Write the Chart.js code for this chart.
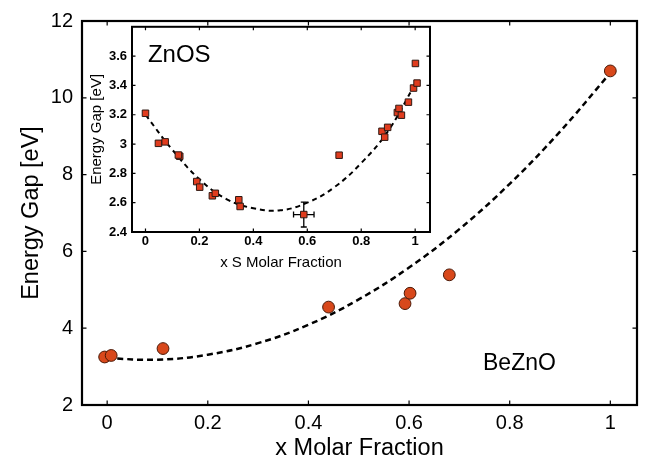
<!DOCTYPE html>
<html>
<head>
<meta charset="utf-8">
<script src="https://cdn.jsdelivr.net/npm/chart.js@4.4.1/dist/chart.umd.min.js"></script>
<style>
  html, body { margin: 0; padding: 0; background: #fff; }
  #wrap { position: relative; width: 645px; height: 466px; }
  #main { position: absolute; left: 0; top: 0; }
  #inset { position: absolute; left: 84px; top: 14px; }
</style>
</head>
<body>
<div id="wrap">
  <canvas id="main" width="645" height="466"></canvas>
  <canvas id="inset" width="356" height="262"></canvas>
</div>
<script>
// BeZnO, main plot
const beznoX = [-0.005, 0.008, 0.111, 0.44, 0.592, 0.602, 0.68, 1.0]
const beznoY = [3.25, 3.29, 3.47, 4.55, 4.64, 4.91, 5.39, 10.70]
const beznoFitX = [0, 0.1, 0.2, 0.3, 0.4, 0.5, 0.6, 0.7, 0.8, 0.9, 1.0]
const beznoFitY = [3.22, 3.18, 3.31, 3.61, 4.09, 4.75, 5.58, 6.58, 7.76, 9.12, 10.65]
const mainXTicks = [0, 0.2, 0.4, 0.6, 0.8, 1]
const mainYTicks = [2, 4, 6, 8, 10, 12]

// ZnOS, inset
const znosX = [0.0, 0.048, 0.073, 0.127, 0.122, 0.19, 0.201, 0.248, 0.259, 0.346, 0.351, 0.587,
  0.718, 0.877, 0.887, 0.898, 0.934, 0.94, 0.949, 0.975, 0.994, 1.007, 1.001]
const znosY = [3.21, 3.005, 3.015, 2.917, 2.925, 2.744, 2.706, 2.647, 2.664, 2.62, 2.574, 2.519,
  2.924, 3.087, 3.047, 3.114, 3.215, 3.243, 3.197, 3.286, 3.382, 3.416, 3.55]
const znosErrAt = [11]
const znosErrX = [0.038]
const znosErrY = [0.085]
const znosFitX = [0, 0.1, 0.2, 0.3, 0.4, 0.5, 0.6, 0.7, 0.8, 0.9, 1.0]
const znosFitY = [3.20, 2.96, 2.76, 2.625, 2.562, 2.548, 2.60, 2.705, 2.87, 3.09, 3.41]
const insetXTicks = [0, 0.2, 0.4, 0.6, 0.8, 1]
const insetYTicks = [2.4, 2.6, 2.8, 3, 3.2, 3.4, 3.6]

const FONT = "'Liberation Sans', Arial, sans-serif"
const zip = (xs, ys) => xs.map((x, i) => ({ x, y: ys[i] }))

// box round the plot area with short inward ticks on all four sides
const framePlugin = {
  id: 'frame',
  afterDraw(chart, args, opts) {
    const { ctx, chartArea: a, scales } = chart
    ctx.save()
    ctx.strokeStyle = '#000'
    ctx.lineWidth = 1.2
    ctx.beginPath()
    scales.x.ticks.forEach(t => {
      const px = scales.x.getPixelForValue(t.value)
      ctx.moveTo(px, a.bottom); ctx.lineTo(px, a.bottom - opts.tick)
      ctx.moveTo(px, a.top); ctx.lineTo(px, a.top + opts.tick)
    })
    scales.y.ticks.forEach(t => {
      const py = scales.y.getPixelForValue(t.value)
      ctx.moveTo(a.left, py); ctx.lineTo(a.left + opts.tick, py)
      ctx.moveTo(a.right, py); ctx.lineTo(a.right - opts.tick, py)
    })
    ctx.stroke()
    ctx.lineWidth = opts.width
    ctx.strokeRect(a.left, a.top, a.right - a.left, a.bottom - a.top)
    ctx.restore()
  }
}

// free text placed in data coordinates
const notePlugin = {
  id: 'note',
  afterDraw(chart, args, opts) {
    const { ctx, scales } = chart
    ctx.save()
    ctx.fillStyle = '#000'
    ctx.textAlign = 'left'
    ctx.textBaseline = 'alphabetic'
    ctx.font = opts.font
    ctx.fillText(opts.text, scales.x.getPixelForValue(opts.x), scales.y.getPixelForValue(opts.y))
    ctx.restore()
  }
}

// error bars for the few points that have them
const errorPlugin = {
  id: 'errbars',
  beforeDatasetsDraw(chart) {
    const { ctx, scales: { x, y } } = chart
    ctx.save()
    ctx.strokeStyle = '#000'
    ctx.lineWidth = 1.3
    ctx.beginPath()
    znosErrAt.forEach((idx, i) => {
      const cx = x.getPixelForValue(znosX[idx])
      const cy = y.getPixelForValue(znosY[idx])
      const x0 = x.getPixelForValue(znosX[idx] - znosErrX[i])
      const x1 = x.getPixelForValue(znosX[idx] + znosErrX[i])
      const y0 = y.getPixelForValue(znosY[idx] - znosErrY[i])
      const y1 = y.getPixelForValue(znosY[idx] + znosErrY[i])
      ctx.moveTo(x0, cy); ctx.lineTo(x1, cy)
      ctx.moveTo(x0, cy - 3); ctx.lineTo(x0, cy + 3)
      ctx.moveTo(x1, cy - 3); ctx.lineTo(x1, cy + 3)
      ctx.moveTo(cx, y0); ctx.lineTo(cx, y1)
      ctx.moveTo(cx - 3, y0); ctx.lineTo(cx + 3, y0)
      ctx.moveTo(cx - 3, y1); ctx.lineTo(cx + 3, y1)
    })
    ctx.stroke()
    ctx.restore()
  }
}

function axis(cfg) {
  return {
    type: 'linear',
    min: cfg.min,
    max: cfg.max,
    grid: { display: false, drawTicks: false },
    border: { display: false },
    afterBuildTicks: s => { s.ticks = cfg.ticks.map(v => ({ value: v })) },
    afterFit: s => { if (cfg.w) s.width = cfg.w; if (cfg.h) s.height = cfg.h },
    ticks: {
      autoSkip: false,
      maxRotation: 0,
      padding: cfg.pad,
      color: '#000',
      font: cfg.tickFont,
      callback: v => String(v)
    },
    title: {
      display: true,
      text: cfg.title,
      color: '#000',
      font: cfg.titleFont,
      padding: cfg.titlePad
    }
  }
}

Chart.defaults.font.family = FONT
Chart.defaults.devicePixelRatio = 1

new Chart(document.getElementById('main'), {
  type: 'scatter',
  data: {
    datasets: [
      {
        label: 'BeZnO',
        data: zip(beznoX, beznoY),
        pointStyle: 'circle',
        pointRadius: 5.9,
        backgroundColor: '#D8481B',
        borderColor: '#4a1806',
        borderWidth: 1,
        order: 0
      },
      {
        label: 'fit',
        data: zip(beznoFitX, beznoFitY),
        showLine: true,
        tension: 0.4,
        pointRadius: 0,
        borderColor: '#000',
        borderWidth: 2.5,
        borderDash: [6, 4],
        fill: false,
        order: 1
      }
    ]
  },
  options: {
    responsive: false,
    animation: false,
    layout: { padding: { top: 12, right: 8, left: 0, bottom: 0 } },
    plugins: {
      legend: { display: false },
      tooltip: { enabled: false },
      frame: { width: 2.2, tick: 4.5 },
      note: { text: 'BeZnO', x: 0.747, y: 2.92, font: `23px ${FONT}` }
    },
    scales: {
      x: axis({
        min: -0.05, max: 1.053, ticks: mainXTicks, h: 61, pad: 6,
        tickFont: { size: 20 }, title: 'x Molar Fraction',
        titleFont: { size: 23.5 }, titlePad: { top: 0, bottom: 3 }
      }),
      y: axis({
        min: 2, max: 12, ticks: mainYTicks, w: 82, pad: 9,
        tickFont: { size: 20 }, title: 'Energy Gap [eV]',
        titleFont: { size: 23.5 }, titlePad: { top: 17, bottom: 0 }
      })
    }
  },
  plugins: [framePlugin, notePlugin]
})

new Chart(document.getElementById('inset'), {
  type: 'scatter',
  data: {
    datasets: [
      {
        label: 'ZnOS',
        data: zip(znosX, znosY),
        pointStyle: 'rect',
        pointRadius: 4.6,
        backgroundColor: '#E03C1E',
        borderColor: '#2e1a14',
        borderWidth: 1,
        order: 0
      },
      {
        label: 'fit',
        data: zip(znosFitX, znosFitY),
        showLine: true,
        tension: 0.4,
        pointRadius: 0,
        borderColor: '#000',
        borderWidth: 2,
        borderDash: [5, 4],
        fill: false,
        order: 1
      }
    ]
  },
  options: {
    responsive: false,
    animation: false,
    layout: { padding: { top: 6, right: 10, left: 0, bottom: 0 } },
    plugins: {
      legend: { display: false },
      tooltip: { enabled: false },
      frame: { width: 2, tick: 3.5 },
      note: { text: 'ZnOS', x: 0.009, y: 3.56, font: `24px ${FONT}` }
    },
    scales: {
      x: axis({
        min: -0.05, max: 1.055, ticks: insetXTicks, h: 44, pad: 2,
        tickFont: { size: 13, weight: 'bold' }, title: 'x S Molar Fraction',
        titleFont: { size: 15 }, titlePad: { top: 0, bottom: 4.5 }
      }),
      y: axis({
        min: 2.4, max: 3.8, ticks: insetYTicks, w: 48, pad: 5,
        tickFont: { size: 13, weight: 'bold' }, title: 'Energy Gap [eV]',
        titleFont: { size: 15 }, titlePad: { top: 4, bottom: 0 }
      })
    }
  },
  plugins: [framePlugin, notePlugin, errorPlugin]
})
</script>
</body>
</html>
